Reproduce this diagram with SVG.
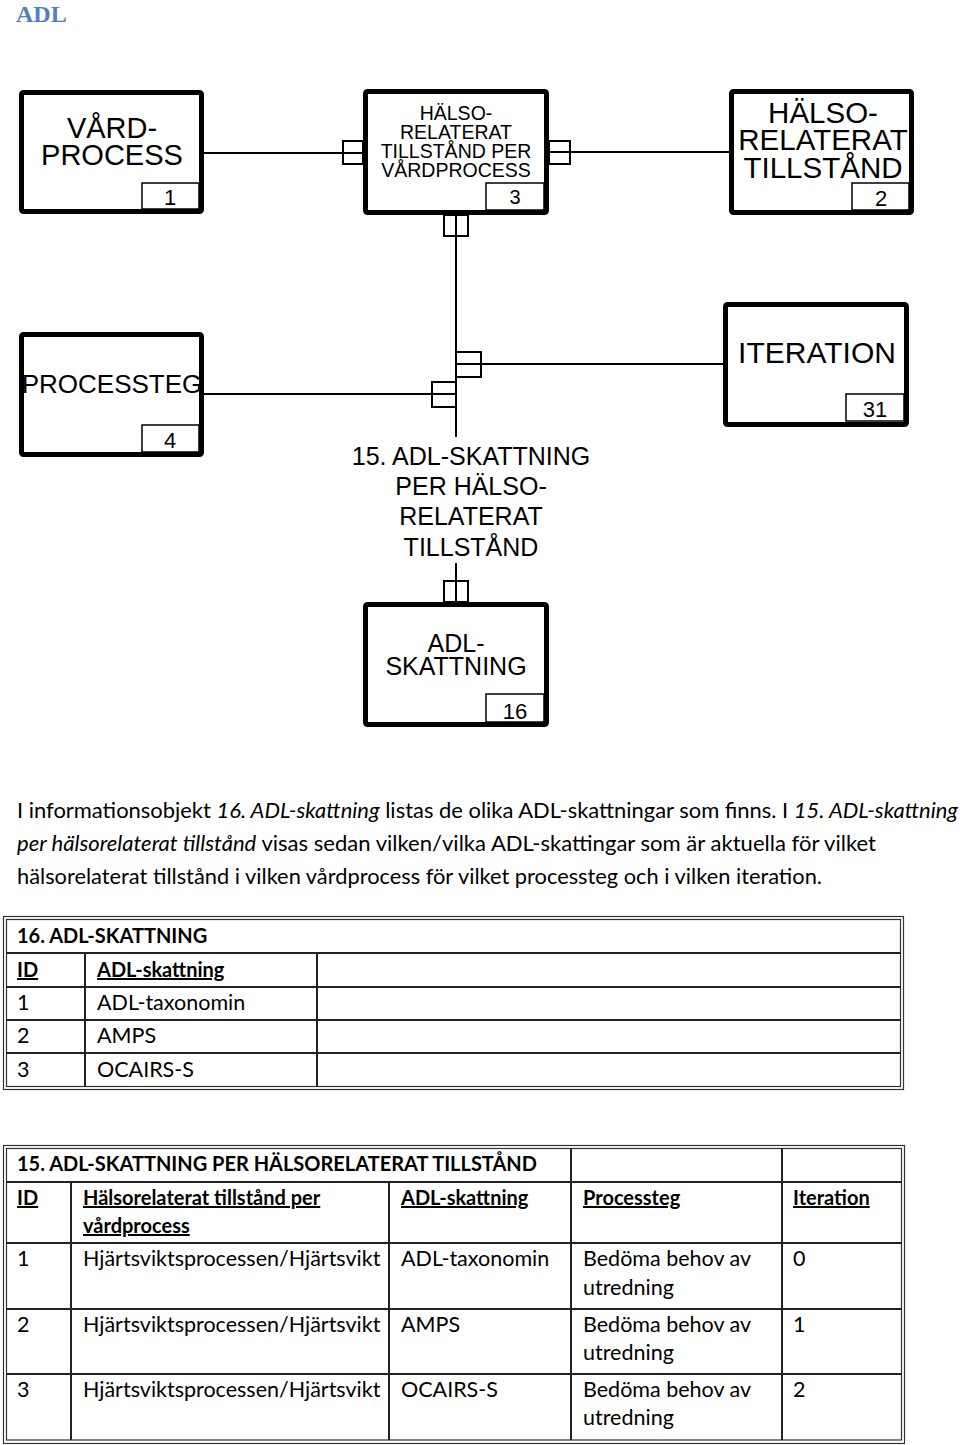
<svg xmlns="http://www.w3.org/2000/svg" width="960" height="1445" viewBox="0 0 960 1445">
<style>
.ent{fill:#fff;stroke:#000;stroke-width:5}
.idb{fill:none;stroke:#000;stroke-width:1.5}
.lbl{font-family:"Liberation Sans",Arial,sans-serif;fill:#000;text-anchor:middle}
.con{stroke:#000;stroke-width:2;fill:none}
.cf{stroke:#000;stroke-width:2;fill:none}
.tb{font-family:Lato,"Open Sans",sans-serif;font-size:21.5px;fill:#000}
.b{font-weight:bold;font-size:20px}
.u{text-decoration:underline}
.frame{fill:none;stroke:#333;stroke-width:1.2}
.grid{stroke:#222;stroke-width:2}
</style>
<rect width="960" height="1445" fill="#fff"/>
<text x="16" y="22" font-family="'Liberation Serif',Cambria,serif" font-size="24" font-weight="bold" fill="#4f81bd">ADL</text>

<g id="connectors">
<line class="con" x1="204" y1="153" x2="343" y2="153"/>
<line class="con" x1="570" y1="152" x2="729" y2="152"/>
<line class="con" x1="456" y1="215" x2="456" y2="437"/>
<line class="con" x1="456" y1="563" x2="456" y2="602"/>
<line class="con" x1="456" y1="364" x2="723" y2="364"/>
<line class="con" x1="204" y1="394" x2="456" y2="394"/>
<rect class="cf" x="343" y="141" width="20" height="23"/>
<line class="con" x1="343" y1="153" x2="363" y2="153"/>
<rect class="cf" x="549" y="141" width="21" height="23"/>
<line class="con" x1="549" y1="152" x2="570" y2="152"/>
<rect class="cf" x="444" y="215" width="24" height="21"/>
<rect class="cf" x="456" y="352" width="25" height="25"/>
<rect class="cf" x="432" y="382" width="24" height="25"/>
<rect class="cf" x="444" y="581" width="24" height="21"/>
<text class="lbl" font-size="25" x="471" y="465">15. ADL-SKATTNING</text>
<text class="lbl" font-size="25" x="471" y="495">PER HÄLSO-</text>
<text class="lbl" font-size="25" x="471" y="525">RELATERAT</text>
<text class="lbl" font-size="25" x="471" y="556">TILLSTÅND</text>
</g>

<g id="n1">
<rect class="ent" x="21.5" y="92.5" width="180" height="119" rx="2"/>
<rect class="idb" x="142" y="183" width="57" height="26"/>
<text class="lbl" font-size="29" x="112" y="138">VÅRD-</text>
<text class="lbl" font-size="29" x="112" y="165">PROCESS</text>
<text class="lbl" font-size="22" x="170" y="205">1</text>
</g>

<g id="n3">
<rect class="ent" x="365.5" y="91.5" width="181" height="121" rx="2"/>
<rect class="idb" x="486" y="183" width="58" height="27"/>
<text class="lbl" font-size="19.5" x="456" y="120">HÄLSO-</text>
<text class="lbl" font-size="19.5" x="456" y="139">RELATERAT</text>
<text class="lbl" font-size="19.5" x="456" y="158">TILLSTÅND PER</text>
<text class="lbl" font-size="19.5" x="456" y="177">VÅRDPROCESS</text>
<text class="lbl" font-size="20" x="515" y="204">3</text>
</g>

<g id="n2">
<rect class="ent" x="731.5" y="91.5" width="180" height="121" rx="2"/>
<rect class="idb" x="852" y="183" width="57" height="27"/>
<text class="lbl" font-size="29.5" x="823" y="123">HÄLSO-</text>
<text class="lbl" font-size="29.5" x="823" y="150">RELATERAT</text>
<text class="lbl" font-size="29.5" x="823" y="178">TILLSTÅND</text>
<text class="lbl" font-size="22" x="881" y="206">2</text>
</g>

<g id="n4">
<rect class="ent" x="21.5" y="334.5" width="180" height="120" rx="2"/>
<rect class="idb" x="142" y="425" width="57" height="27"/>
<text class="lbl" font-size="26" x="112" y="393">PROCESSTEG</text>
<text class="lbl" font-size="22" x="170" y="448">4</text>
</g>

<g id="n31">
<rect class="ent" x="725.5" y="304.5" width="181" height="120" rx="2"/>
<rect class="idb" x="846" y="394" width="58" height="27"/>
<text class="lbl" font-size="30" x="817" y="363">ITERATION</text>
<text class="lbl" font-size="22" x="875" y="417">31</text>
</g>

<g id="n16">
<rect class="ent" x="365.5" y="604.5" width="181" height="120" rx="2"/>
<rect class="idb" x="486" y="694" width="58" height="28"/>
<text class="lbl" font-size="25" x="456" y="652">ADL-</text>
<text class="lbl" font-size="25" x="456" y="675">SKATTNING</text>
<text class="lbl" font-size="22" x="515" y="719">16</text>
</g>

<g id="paragraph" class="tb">
<text x="17" y="818" textLength="941" lengthAdjust="spacingAndGlyphs">I informationsobjekt <tspan font-style="italic">16. ADL-skattning</tspan> listas de olika ADL-skattningar som finns. I <tspan font-style="italic">15. ADL-skattning</tspan></text>
<text x="17" y="851" textLength="859" lengthAdjust="spacingAndGlyphs"><tspan font-style="italic">per hälsorelaterat tillstånd</tspan> visas sedan vilken/vilka ADL-skattingar som är aktuella för vilket</text>
<text x="17" y="884" textLength="805" lengthAdjust="spacingAndGlyphs">hälsorelaterat tillstånd i vilken vårdprocess för vilket processteg och i vilken iteration.</text>
</g>

<g id="table16">
<rect class="frame" x="3.5" y="916.5" width="900" height="173"/>
<rect class="frame" x="6.5" y="919.5" width="894" height="167"/>
<line class="grid" x1="6" y1="953" x2="901" y2="953"/>
<line class="grid" x1="6" y1="987" x2="901" y2="987"/>
<line class="grid" x1="6" y1="1020" x2="901" y2="1020"/>
<line class="grid" x1="6" y1="1053" x2="901" y2="1053"/>
<line class="grid" x1="85" y1="953" x2="85" y2="1087"/>
<line class="grid" x1="317" y1="953" x2="317" y2="1087"/>
<text class="tb b" x="17" y="943">16. ADL-SKATTNING</text>
<text class="tb b u" x="17" y="977">ID</text>
<text class="tb b u" x="97" y="977">ADL-skattning</text>
<text class="tb" x="17" y="1010">1</text>
<text class="tb" x="97" y="1010">ADL-taxonomin</text>
<text class="tb" x="17" y="1043">2</text>
<text class="tb" x="97" y="1043">AMPS</text>
<text class="tb" x="17" y="1077">3</text>
<text class="tb" x="97" y="1077">OCAIRS-S</text>
</g>

<g id="table15">
<rect class="frame" x="3.5" y="1145.5" width="901" height="298"/>
<rect class="frame" x="6.5" y="1148.5" width="895" height="291.5"/>
<line class="grid" x1="6" y1="1182" x2="902" y2="1182"/>
<line class="grid" x1="6" y1="1243" x2="902" y2="1243"/>
<line class="grid" x1="6" y1="1309" x2="902" y2="1309"/>
<line class="grid" x1="6" y1="1374" x2="902" y2="1374"/>
<line class="grid" x1="71" y1="1182" x2="71" y2="1440"/>
<line class="grid" x1="389" y1="1182" x2="389" y2="1440"/>
<line class="grid" x1="571" y1="1148" x2="571" y2="1440"/>
<line class="grid" x1="782" y1="1148" x2="782" y2="1440"/>
<text class="tb b" x="17" y="1171">15. ADL-SKATTNING PER HÄLSORELATERAT TILLSTÅND</text>
<text class="tb b u" x="17" y="1205">ID</text>
<text class="tb b u" x="83" y="1205">Hälsorelaterat tillstånd per</text>
<text class="tb b u" x="83" y="1233">vårdprocess</text>
<text class="tb b u" x="401" y="1205">ADL-skattning</text>
<text class="tb b u" x="583" y="1205">Processteg</text>
<text class="tb b u" x="793" y="1205">Iteration</text>
<text class="tb" x="17" y="1266">1</text>
<text class="tb" x="83" y="1266">Hjärtsviktsprocessen/Hjärtsvikt</text>
<text class="tb" x="401" y="1266">ADL-taxonomin</text>
<text class="tb" x="583" y="1266">Bedöma behov av</text>
<text class="tb" x="583" y="1295">utredning</text>
<text class="tb" x="793" y="1266">0</text>
<text class="tb" x="17" y="1332">2</text>
<text class="tb" x="83" y="1332">Hjärtsviktsprocessen/Hjärtsvikt</text>
<text class="tb" x="401" y="1332">AMPS</text>
<text class="tb" x="583" y="1332">Bedöma behov av</text>
<text class="tb" x="583" y="1360">utredning</text>
<text class="tb" x="793" y="1332">1</text>
<text class="tb" x="17" y="1397">3</text>
<text class="tb" x="83" y="1397">Hjärtsviktsprocessen/Hjärtsvikt</text>
<text class="tb" x="401" y="1397">OCAIRS-S</text>
<text class="tb" x="583" y="1397">Bedöma behov av</text>
<text class="tb" x="583" y="1425">utredning</text>
<text class="tb" x="793" y="1397">2</text>
</g>
</svg>
